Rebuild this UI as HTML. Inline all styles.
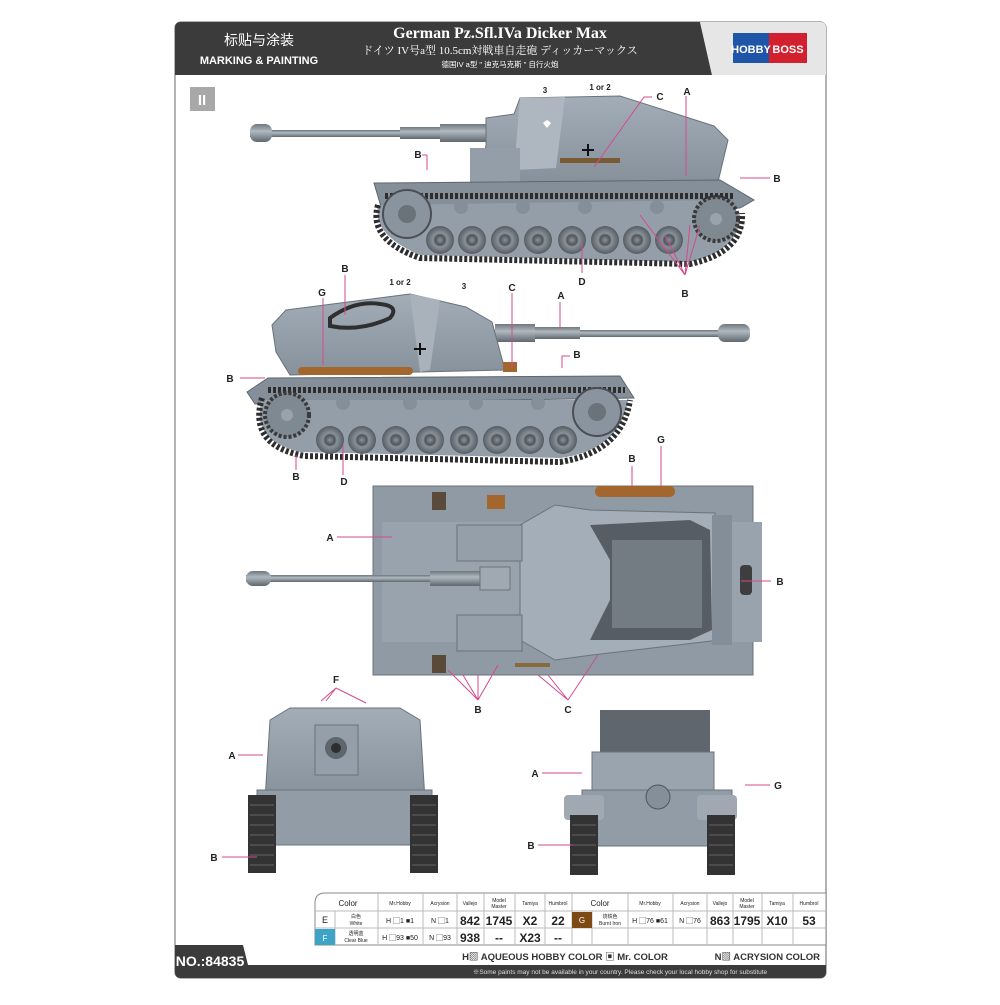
<!DOCTYPE html>
<html><head><meta charset="utf-8"><style>
html,body{margin:0;padding:0;background:#fff;}
body{width:1000px;height:1000px;overflow:hidden;position:relative;font-family:"Liberation Sans","Noto Sans CJK SC",sans-serif;}
</style></head><body>
<svg width="1000" height="1000" viewBox="0 0 1000 1000" xmlns="http://www.w3.org/2000/svg" font-family="Liberation Sans, Noto Sans CJK SC, sans-serif">
<defs>
<linearGradient id="g1" x1="0" y1="0" x2="0" y2="1"><stop offset="0" stop-color="#a3adb7"/><stop offset="1" stop-color="#87919b"/></linearGradient>
<linearGradient id="gun" x1="0" y1="0" x2="0" y2="1"><stop offset="0" stop-color="#6e767e"/><stop offset=".4" stop-color="#b0b8c0"/><stop offset="1" stop-color="#5f676f"/></linearGradient>
<radialGradient id="wh"><stop offset="0" stop-color="#8b939b"/><stop offset=".35" stop-color="#4f565d"/><stop offset=".5" stop-color="#8a9299"/><stop offset="1" stop-color="#555c63"/></radialGradient>
</defs>
<rect x="175" y="22" width="651" height="956" rx="6" fill="#fff" stroke="#9a9a9a" stroke-width="1.5"/>
<path d="M181 22 H700 L712 75 H175 V28 Q175 22 181 22Z" fill="#3b3b3b"/>
<path d="M700 22 H820 Q826 22 826 28 V75 H712Z" fill="#e6e6e6"/>
<text x="259" y="45" font-size="14" fill="#fff" text-anchor="middle">标贴与涂装</text>
<text x="259" y="64" font-size="11" font-weight="bold" fill="#fff" text-anchor="middle">MARKING &amp; PAINTING</text>
<text x="500" y="38" font-size="16" font-weight="bold" fill="#fff" text-anchor="middle" font-family="Liberation Serif, serif">German Pz.Sfl.IVa Dicker Max</text>
<text x="500" y="54" font-size="11" fill="#fff" text-anchor="middle" font-family="Liberation Serif, Noto Serif CJK SC, serif">ドイツ IV号a型 10.5cm対戦車自走砲 ディッカーマックス</text>
<text x="500" y="67" font-size="7.5" fill="#fff" text-anchor="middle">德国IV a型 " 迪克马克斯 " 自行火炮</text>
<rect x="733" y="33" width="36" height="30" fill="#1f55a8"/><rect x="769" y="33" width="38" height="30" fill="#d3202e"/>
<text x="751" y="53" font-size="11" font-weight="bold" fill="#fff" text-anchor="middle">HOBBY</text>
<text x="788" y="53" font-size="11" font-weight="bold" fill="#fff" text-anchor="middle">BOSS</text>
<rect x="190" y="87" width="25" height="24" fill="#a8a8a8"/>
<text x="202" y="105" font-size="15" font-weight="bold" fill="#fff" text-anchor="middle">II</text>

<!-- Tank 1 -->
<g>
<rect x="250" y="130" width="250" height="7" fill="url(#gun)"/>
<rect x="400" y="127" width="60" height="12" fill="url(#gun)"/>
<rect x="440" y="124" width="50" height="18" fill="url(#gun)"/>
<rect x="250" y="124" width="22" height="18" rx="7" fill="url(#gun)"/>
<polygon points="486,118 514,114 520,98 620,96 714,126 728,140 718,182 480,182 486,145" fill="url(#g1)" stroke="#6a737b"/>
<polygon points="520,98 565,97 556,168 514,170" fill="#aeb7c0"/>
<rect x="470" y="148" width="50" height="34" fill="#949ea8"/>
<rect x="560" y="158" width="60" height="5" fill="#7a5a32"/>
<polygon points="374,183 720,180 754,200 740,208 382,210" fill="#858f99" stroke="#5e666d"/>
<path d="M378,205 Q372,235 420,255 L690,262 Q740,250 740,215 L720,200 Z" fill="#949ea8"/>
<path d="M378,205 Q368,240 420,258 L690,264 Q744,252 742,213" fill="none" stroke="#2d2d2d" stroke-width="6" stroke-dasharray="3 2"/>
<line x1="385" y1="196" x2="735" y2="196" stroke="#2d2d2d" stroke-width="6" stroke-dasharray="3 2"/>
<g fill="url(#wh)"><circle cx="440" cy="240" r="14"/><circle cx="472" cy="240" r="14"/><circle cx="505" cy="240" r="14"/><circle cx="538" cy="240" r="14"/><circle cx="572" cy="240" r="14"/><circle cx="605" cy="240" r="14"/><circle cx="637" cy="240" r="14"/><circle cx="669" cy="240" r="14"/></g>
<g fill="#858f99"><circle cx="461" cy="207" r="7"/><circle cx="523" cy="207" r="7"/><circle cx="585" cy="207" r="7"/><circle cx="657" cy="207" r="7"/></g>
<circle cx="407" cy="214" r="24" fill="#8a949e" stroke="#4a4f55" stroke-width="2"/>
<circle cx="407" cy="214" r="9" fill="#6b737a"/>
<circle cx="716" cy="219" r="22" fill="#7f8992" stroke="#3a3a3a" stroke-width="4" stroke-dasharray="3 2"/>
<circle cx="716" cy="219" r="6" fill="#9aa3ab"/>
<path d="M543,123 l4,-3 l4,3 l-4,5z" fill="#fff"/>
<path d="M582,150 h12 M588,144 v12" stroke="#111" stroke-width="2"/>
</g>

<!-- Tank 2 -->
<g>
<rect x="490" y="330" width="250" height="7" fill="url(#gun)"/>
<rect x="520" y="327" width="60" height="12" fill="url(#gun)"/>
<rect x="495" y="324" width="40" height="18" fill="url(#gun)"/>
<rect x="718" y="324" width="32" height="18" rx="7" fill="url(#gun)"/>
<polygon points="272,325 286,310 410,294 466,307 492,322 505,370 290,375 276,352" fill="url(#g1)" stroke="#6a737b"/>
<polygon points="410,294 440,300 430,370 420,372" fill="#a9b2bb"/>
<path d="M330,318 q25,-18 50,-14 q20,2 10,14 q-30,14 -60,8z" fill="none" stroke="#2f2f2f" stroke-width="4"/>
<rect x="298" y="367" width="115" height="8" rx="4" fill="#a3672e"/>
<rect x="503" y="362" width="14" height="10" fill="#a3672e"/>
<polygon points="247,392 268,378 620,376 634,398 255,404" fill="#858f99" stroke="#5e666d"/>
<path d="M262,400 Q250,440 300,452 L560,458 Q620,450 628,400" fill="#949ea8"/>
<path d="M262,398 Q248,446 305,456 L560,462 Q622,452 630,400" fill="none" stroke="#2d2d2d" stroke-width="6" stroke-dasharray="3 2"/>
<line x1="268" y1="390" x2="625" y2="390" stroke="#2d2d2d" stroke-width="6" stroke-dasharray="3 2"/>
<g fill="url(#wh)"><circle cx="330" cy="440" r="14"/><circle cx="362" cy="440" r="14"/><circle cx="396" cy="440" r="14"/><circle cx="430" cy="440" r="14"/><circle cx="464" cy="440" r="14"/><circle cx="497" cy="440" r="14"/><circle cx="530" cy="440" r="14"/><circle cx="563" cy="440" r="14"/></g>
<g fill="#858f99"><circle cx="343" cy="403" r="7"/><circle cx="410" cy="403" r="7"/><circle cx="476" cy="403" r="7"/><circle cx="538" cy="403" r="7"/></g>
<circle cx="287" cy="415" r="22" fill="#7f8992" stroke="#3a3a3a" stroke-width="4" stroke-dasharray="3 2"/>
<circle cx="287" cy="415" r="6" fill="#9aa3ab"/>
<circle cx="597" cy="412" r="24" fill="#8a949e" stroke="#4a4f55" stroke-width="2"/>
<circle cx="597" cy="412" r="9" fill="#6b737a"/>
<path d="M414,349 h12 M420,343 v12" stroke="#111" stroke-width="2"/>
</g>

<!-- Top view -->
<g>
<rect x="373" y="486" width="380" height="189" fill="#909aa4" stroke="#6a737b"/>
<rect x="382" y="522" width="380" height="120" fill="#99a3ad"/>
<polygon points="520,525 555,505 590,510 715,513 720,640 592,655 555,660 520,640" fill="#a4aeb8" stroke="#6a737b"/>
<polygon points="590,525 690,520 710,530 712,630 690,640 590,640 610,600 610,560" fill="#565d64"/>
<rect x="612" y="540" width="90" height="88" fill="#737b83"/>
<rect x="712" y="515" width="20" height="130" fill="#848e98"/>
<rect x="740" y="565" width="12" height="30" rx="4" fill="#3e3e3e"/>
<rect x="457" y="525" width="65" height="36" fill="#959fa9" stroke="#6a737b"/>
<rect x="457" y="615" width="65" height="36" fill="#959fa9" stroke="#6a737b"/>
<rect x="246" y="575" width="260" height="7" fill="url(#gun)"/>
<rect x="430" y="571" width="55" height="15" fill="url(#gun)"/>
<rect x="480" y="567" width="30" height="23" fill="#a0a9b2" stroke="#6a737b"/>
<rect x="246" y="571" width="25" height="15" rx="7" fill="url(#gun)"/>
<rect x="595" y="486" width="80" height="11" rx="5" fill="#a3672e"/>
<rect x="487" y="495" width="18" height="14" fill="#a3672e"/>
<rect x="432" y="492" width="14" height="18" fill="#5a4a3a"/>
<rect x="432" y="655" width="14" height="18" fill="#5a4a3a"/>
<rect x="515" y="663" width="35" height="4" fill="#8a6a3a"/>
</g>

<!-- Front view -->
<g>
<polygon points="270,720 290,708 400,708 420,720 425,800 265,800" fill="url(#g1)" stroke="#6a737b"/>
<polygon points="315,725 358,725 358,775 315,775" fill="#959fa9" stroke="#6a737b"/>
<circle cx="336" cy="748" r="11" fill="#5e666d"/><circle cx="336" cy="748" r="5" fill="#2e2e2e"/>
<rect x="257" y="790" width="175" height="55" fill="#929ca6" stroke="#6a737b"/>
<rect x="248" y="795" width="28" height="78" fill="#333"/>
<rect x="410" y="795" width="28" height="78" fill="#333"/>
<g stroke="#666" stroke-width="1"><path d="M250,805h24M250,815h24M250,825h24M250,835h24M250,845h24M250,855h24M250,865h24M412,805h24M412,815h24M412,825h24M412,835h24M412,845h24M412,855h24M412,865h24"/></g>
</g>
<!-- Rear view -->
<g>
<rect x="600" y="710" width="110" height="50" fill="#5f666d"/>
<rect x="592" y="752" width="122" height="40" fill="#9aa4ae" stroke="#6a737b"/>
<rect x="582" y="790" width="150" height="56" fill="#929ca6" stroke="#6a737b"/>
<rect x="564" y="795" width="40" height="25" rx="4" fill="#a0a9b2"/>
<rect x="697" y="795" width="40" height="25" rx="4" fill="#a0a9b2"/>
<circle cx="658" cy="797" r="12" fill="#858f99" stroke="#4f565d"/>
<rect x="570" y="815" width="28" height="60" fill="#333"/>
<rect x="707" y="815" width="28" height="60" fill="#333"/>
<g stroke="#666"><path d="M572,825h24M572,835h24M572,845h24M572,855h24M572,865h24M709,825h24M709,835h24M709,845h24M709,855h24M709,865h24"/></g>
</g>

<!-- labels -->
<g stroke="#d44a8e" stroke-width="1" fill="none">
<path d="M427,155 h-5 M427,155 v15"/>
<path d="M740,178 h30"/>
<path d="M686,96 v80"/>
<path d="M652,97 h-8 l-50,70"/>
<path d="M685,275 l-45,-60 M685,275 l-20,-40 M685,275 l5,-50 M685,275 l15,-50"/>
<path d="M582,273 v-30"/>
<path d="M345,275 v40"/>
<path d="M323,298 v67"/>
<path d="M512,293 v75"/>
<path d="M560,302 v27"/>
<path d="M570,356 h-8 v12"/>
<path d="M240,378 h25"/>
<path d="M296,470 v-15"/>
<path d="M343,475 v-30"/>
<path d="M632,466 v20"/>
<path d="M661,446 v40"/>
<path d="M337,537 h55"/>
<path d="M741,581 h30"/>
<path d="M478,700 l-30,-30 M478,700 l-15,-25 M478,700 l0,-25 M478,700 l20,-35"/>
<path d="M568,700 l-30,-25 M568,700 l-20,-25 M568,700 l30,-45"/>
<path d="M336,688 l-15,13 M336,688 l-10,13 M336,688 l30,15"/>
<path d="M238,755 h25"/>
<path d="M222,857 h35"/>
<path d="M542,773 h40"/>
<path d="M538,845 h35"/>
<path d="M745,785 h25"/>
</g>
<g fill="#222" font-size="10" font-weight="bold" text-anchor="middle">
<text x="418" y="158">B</text><text x="777" y="182">B</text><text x="687" y="95">A</text><text x="660" y="100">C</text>
<text x="685" y="297">B</text><text x="582" y="285">D</text><text x="545" y="93" font-size="8">3</text><text x="600" y="90" font-size="8">1 or 2</text>
<text x="345" y="272">B</text><text x="322" y="296">G</text><text x="512" y="291">C</text><text x="561" y="299">A</text><text x="577" y="358">B</text>
<text x="230" y="382">B</text><text x="296" y="480">B</text><text x="344" y="485">D</text><text x="400" y="285" font-size="8">1 or 2</text><text x="464" y="289" font-size="8">3</text>
<text x="632" y="462">B</text><text x="661" y="443">G</text><text x="330" y="541">A</text><text x="780" y="585">B</text>
<text x="478" y="713">B</text><text x="568" y="713">C</text><text x="336" y="683">F</text><text x="232" y="759">A</text><text x="214" y="861">B</text>
<text x="535" y="777">A</text><text x="531" y="849">B</text><text x="778" y="789">G</text>
</g>

<!-- table -->
<g font-size="7" fill="#222" text-anchor="middle">
<path d="M325,893 H826 V945 H315 V903 Q315,893 325,893Z" fill="#fff" stroke="#888"/>
<g stroke="#bbb"><path d="M315,911H826M315,928H826M335,911V945M378,893V945M423,893V945M457,893V945M484,893V945M515,893V945M545,893V945M572,893V945M592,911V945M628,893V945M673,893V945M707,893V945M733,893V945M762,893V945M793,893V945"/></g>
<text x="348" y="906" font-size="8">Color</text><text x="400" y="905" font-size="5">Mr.Hobby</text><text x="440" y="905" font-size="5">Acrysion</text><text x="470" y="905" font-size="5">Vallejo</text><text x="499" y="902" font-size="5">Model</text><text x="499" y="908" font-size="5">Master</text><text x="530" y="905" font-size="5">Tamiya</text><text x="558" y="905" font-size="5">Humbrol</text>
<text x="600" y="906" font-size="8">Color</text><text x="650" y="905" font-size="5">Mr.Hobby</text><text x="690" y="905" font-size="5">Acrysion</text><text x="720" y="905" font-size="5">Vallejo</text><text x="747" y="902" font-size="5">Model</text><text x="747" y="908" font-size="5">Master</text><text x="777" y="905" font-size="5">Tamiya</text><text x="809" y="905" font-size="5">Humbrol</text>
<text x="325" y="923" font-size="9">E</text><text x="356" y="918" font-size="5">白色</text><text x="356" y="925" font-size="5">White</text>
<text x="400" y="923" font-size="7">H ▢1 ■1</text><text x="440" y="923" font-size="7">N ▢1</text>
<g font-size="12" font-weight="bold"><text x="470" y="925">842</text><text x="499" y="925">1745</text><text x="530" y="925">X2</text><text x="558" y="925">22</text><text x="720" y="925">863</text><text x="747" y="925">1795</text><text x="777" y="925">X10</text><text x="809" y="925">53</text>
<text x="470" y="942">938</text><text x="499" y="942">--</text><text x="530" y="942">X23</text><text x="558" y="942">--</text></g>
<rect x="572" y="912" width="20" height="16" fill="#7d4a16"/><text x="582" y="923" fill="#fff" font-size="8">G</text>
<text x="610" y="918" font-size="5">烧铁色</text><text x="610" y="925" font-size="5">Burnt Iron</text>
<text x="650" y="923" font-size="7">H ▢76 ■61</text><text x="690" y="923" font-size="7">N ▢76</text>
<rect x="315" y="929" width="20" height="16" fill="#3da4c8"/><text x="325" y="941" fill="#fff" font-size="8">F</text>
<text x="356" y="935" font-size="5">透明蓝</text><text x="356" y="942" font-size="5">Clear Blue</text>
<text x="400" y="940" font-size="7">H ▢93 ■50</text><text x="440" y="940" font-size="7">N ▢93</text>
</g>
<path d="M175,945 H243 L248,965 H826 V972 Q826,978 820,978 H181 Q175,978 175,972Z" fill="#3b3b3b"/>
<text x="210" y="966" font-size="14" font-weight="bold" fill="#fff" text-anchor="middle">NO.:84835</text>
<text x="565" y="960" font-size="9.5" font-weight="bold" fill="#333" text-anchor="middle">H▨ AQUEOUS HOBBY COLOR  ▣ Mr. COLOR</text>
<text x="820" y="960" font-size="9.5" font-weight="bold" fill="#333" text-anchor="end">N▨ ACRYSION COLOR</text>
<text x="620" y="974" font-size="6.5" fill="#ddd" text-anchor="middle">※Some paints may not be available in your country. Please check your local hobby shop for substitute</text>
</svg>
</body></html>
